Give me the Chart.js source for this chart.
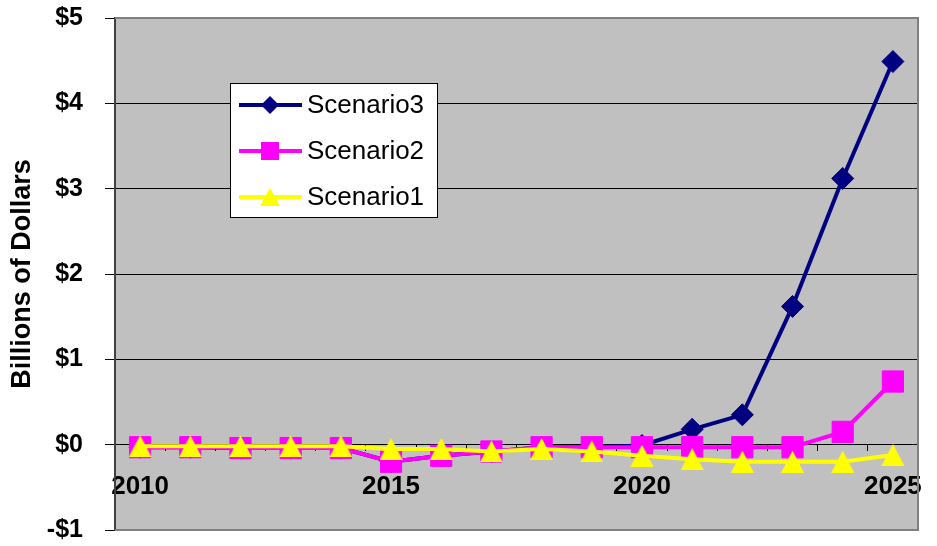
<!DOCTYPE html>
<html lang="en">
<head>
    <meta charset="UTF-8">
    <title>Billions of Dollars by Scenario</title>
    <script src="https://cdn.jsdelivr.net/npm/chart.js"></script>
    <style>
        body { margin: 0; background: #fff; }
        canvas { display: block; }
    </style>
</head>
<body>
    <canvas id="scenarioChart" width="937" height="546"></canvas>

    <script>
        // data
        const years = [2010, 2011, 2012, 2013, 2014, 2015, 2016, 2017, 2018, 2019, 2020, 2021, 2022, 2023, 2024, 2025];
        const scenario1 = [-0.02, -0.02, -0.02, -0.02, -0.02, -0.05, -0.05, -0.08, -0.05, -0.08, -0.13, -0.17, -0.2, -0.2, -0.2, -0.12];
        const scenario2 = [-0.03, -0.03, -0.04, -0.04, -0.04, -0.2, -0.13, -0.08, -0.03, -0.03, -0.03, -0.03, -0.03, -0.03, 0.15, 0.74];
        const scenario3 = [-0.03, -0.03, -0.04, -0.04, -0.04, -0.2, -0.13, -0.08, -0.03, -0.03, -0.01, 0.18, 0.35, 1.62, 3.12, 4.49];
        const yTicks = [-1, 0, 1, 2, 3, 4, 5];

        const FONT = "'Liberation Sans', Arial, sans-serif";

        // triangle marker centred on its bounding box (like the original)
        function triangleMarker(w, h, color) {
            const c = document.createElement('canvas');
            c.width = w; c.height = h;
            const g = c.getContext('2d');
            g.fillStyle = color;
            g.beginPath();
            g.moveTo(w / 2, 0);
            g.lineTo(w, h);
            g.lineTo(0, h);
            g.closePath();
            g.fill();
            return c;
        }
        const triBig = triangleMarker(23, 22, '#FFFF00');

        const plotBackground = {
            id: 'plotBackground',
            beforeDraw(chart) {
                const { ctx, chartArea: a } = chart;
                ctx.save();
                ctx.fillStyle = '#C0C0C0';
                ctx.fillRect(a.left, a.top, a.right - a.left, a.bottom - a.top);
                ctx.restore();
            },
            afterDraw(chart) {
                const { ctx, chartArea: a } = chart;
                ctx.save();
                ctx.strokeStyle = '#808080';
                ctx.lineWidth = 2;
                ctx.beginPath();
                ctx.moveTo(a.left, a.top);
                ctx.lineTo(a.right, a.top);
                ctx.lineTo(a.right, a.bottom);
                ctx.lineTo(a.left, a.bottom);
                ctx.stroke();

                // legend box
                const bx = 230.5, by = 83.5, bw = 207, bh = 134;
                ctx.fillStyle = '#fff';
                ctx.fillRect(bx, by, bw, bh);
                ctx.strokeStyle = '#000';
                ctx.lineWidth = 1;
                ctx.strokeRect(bx, by, bw, bh);

                const rows = chart.data.datasets.slice().reverse();
                rows.forEach((ds, i) => {
                    const y = 105 + i * 46;
                    ctx.strokeStyle = ds.borderColor;
                    ctx.lineWidth = 4;
                    ctx.beginPath();
                    ctx.moveTo(239, y);
                    ctx.lineTo(302, y);
                    ctx.stroke();
                    ctx.fillStyle = ds.borderColor;
                    const mx = 270;
                    if (ds.pointStyle === 'rectRot') {
                        ctx.beginPath();
                        ctx.moveTo(mx - 9, y);
                        ctx.lineTo(mx, y - 9);
                        ctx.lineTo(mx + 9, y);
                        ctx.lineTo(mx, y + 9);
                        ctx.closePath();
                        ctx.fill();
                    } else if (ds.pointStyle === 'rect') {
                        ctx.fillRect(mx - 9, y - 9, 18, 18);
                    } else {
                        ctx.beginPath();
                        ctx.moveTo(mx, y - 9);
                        ctx.lineTo(mx + 10, y + 9);
                        ctx.lineTo(mx - 10, y + 9);
                        ctx.closePath();
                        ctx.fill();
                    }
                    ctx.fillStyle = '#000';
                    ctx.font = '26px ' + FONT;
                    ctx.textAlign = 'left';
                    ctx.textBaseline = 'middle';
                    ctx.fillText(ds.label, 307, y + 1);
                });
                ctx.restore();
            }
        };

        const ctx = document.getElementById('scenarioChart').getContext('2d');
        new Chart(ctx, {
            type: 'line',
            data: {
                labels: years,
                datasets: [{
                    label: 'Scenario1',
                    data: scenario1,
                    borderColor: '#FFFF00',
                    backgroundColor: '#FFFF00',
                    borderWidth: 4,
                    pointStyle: triBig,
                    pointRadius: 11
                }, {
                    label: 'Scenario2',
                    data: scenario2,
                    borderColor: '#FF00FF',
                    backgroundColor: '#FF00FF',
                    borderWidth: 4,
                    pointStyle: 'rect',
                    pointRadius: 15,
                    pointBorderWidth: 1
                }, {
                    label: 'Scenario3',
                    data: scenario3,
                    borderColor: '#000080',
                    backgroundColor: '#000080',
                    borderWidth: 4,
                    pointStyle: 'rectRot',
                    pointRadius: 11,
                    pointBorderWidth: 1
                }]
            },
            options: {
                responsive: false,
                animation: false,
                layout: { padding: { top: 18, right: 19, bottom: 12, left: 0 } },
                plugins: {
                    legend: { display: false },
                    tooltip: { enabled: false }
                },
                scales: {
                    x: {
                        type: 'category',
                        offset: true,
                        position: { y: 0 },
                        afterFit: s => {
                            s.height = 0;
                            s.paddingLeft = 0; s.paddingRight = 0;
                            s.paddingTop = 0; s.paddingBottom = 0;
                        },
                        grid: { drawOnChartArea: false, offset: true, tickLength: 6, color: '#000' },
                        border: { color: '#000', width: 1 },
                        ticks: {
                            autoSkip: false,
                            maxRotation: 0,
                            padding: 24,
                            color: '#000',
                            font: { family: FONT, size: 26, weight: 'bold', lineHeight: 0.9 },
                            callback: (v, i) => (years[i] % 5 === 0 ? String(years[i]) : '')
                        }
                    },
                    y: {
                        min: yTicks[0],
                        max: yTicks[yTicks.length - 1],
                        afterBuildTicks: s => { s.ticks = yTicks.map(v => ({ value: v })); },
                        afterFit: s => { s.width = 115; s.paddingTop = 0; s.paddingBottom = 0; },
                        grid: {
                            color: c => (c.tick && (c.tick.value === 5 || c.tick.value === -1) ? '#808080' : '#000'),
                            tickColor: '#000',
                            tickLength: 10
                        },
                        border: { color: '#404040', width: 2 },
                        ticks: {
                            padding: 22,
                            color: '#000',
                            font: { family: FONT, size: 25, weight: 'bold', lineHeight: 0.9 },
                            callback: v => (v < 0 ? '-$' : '$') + Math.abs(v)
                        },
                        title: {
                            display: true,
                            text: 'Billions of Dollars',
                            color: '#000',
                            font: { family: FONT, size: 27, weight: 'bold' },
                            padding: { top: 6, bottom: 0 }
                        }
                    }
                }
            },
            plugins: [plotBackground]
        });
    </script>
</body>
</html>
